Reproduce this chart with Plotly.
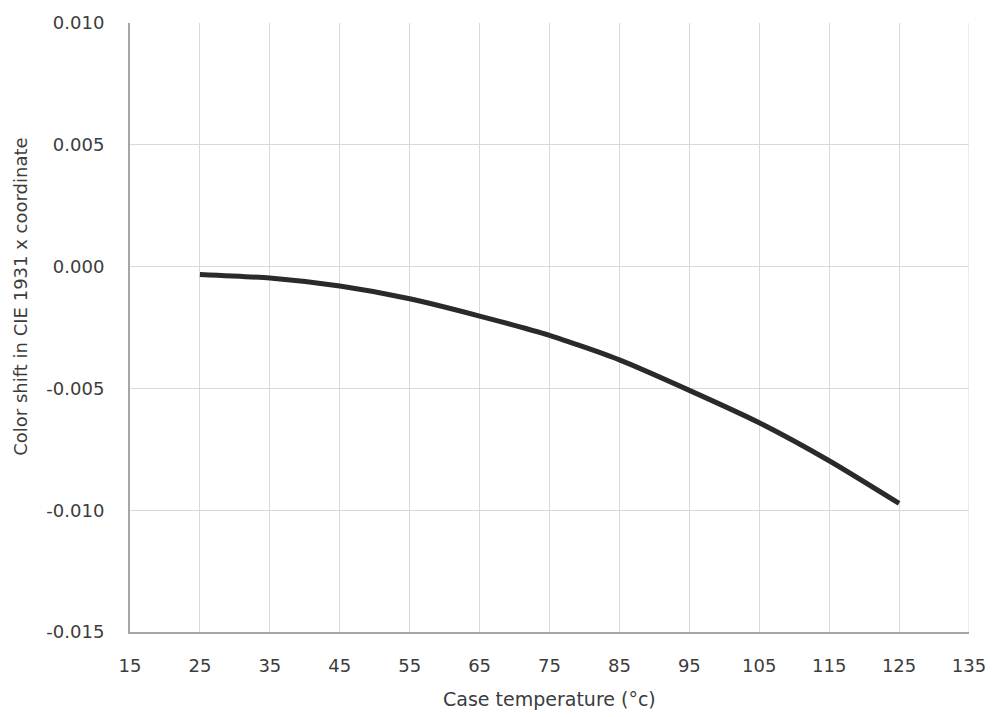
import plotly.graph_objects as go

# Case temperature (°C) and resulting CIE 1931 x chromaticity shift
case_temp = [25, 35, 45, 55, 65, 75, 85, 95, 105, 115, 125]
color_shift_x = [-0.00032, -0.00047, -0.00080, -0.00132, -0.00203, -0.00282,
                 -0.00383, -0.00508, -0.00641, -0.00797, -0.00972]

x_ticks = [15, 25, 35, 45, 55, 65, 75, 85, 95, 105, 115, 125, 135]
y_ticks = [0.010, 0.005, 0.000, -0.005, -0.010, -0.015]

FONT = "DejaVu Sans"
TEXT = "#3c3c3c"
GRID = "#d9d9d9"
AXIS = "#a6a6a6"

fig = go.Figure()
fig.add_trace(go.Scatter(
    x=case_temp, y=color_shift_x, mode="lines",
    line=dict(color="#2a2a2a", width=5, shape="spline", smoothing=0.6),
    hoverinfo="x+y", showlegend=False,
))

fig.update_layout(
    width=998, height=717,
    margin=dict(l=130, r=24, t=16, b=85),
    paper_bgcolor="white", plot_bgcolor="white",
    font=dict(family=FONT, size=18, color=TEXT),
    xaxis=dict(
        range=[15, 135], tickvals=x_ticks, ticktext=[str(v) for v in x_ticks],
        showgrid=True, gridcolor=GRID, gridwidth=1,
        showline=True, linecolor=AXIS, linewidth=2, mirror=False,
        zeroline=False, ticks="outside", ticklen=16, tickcolor="rgba(0,0,0,0)",
        tickfont=dict(family=FONT, size=18, color=TEXT),
    ),
    yaxis=dict(
        range=[-0.015, 0.010], tickvals=y_ticks,
        ticktext=[f"{v:.3f}" for v in y_ticks],
        showgrid=True, gridcolor=GRID, gridwidth=1,
        showline=True, linecolor=AXIS, linewidth=2,
        zeroline=False, ticks="outside", ticklen=20, tickcolor="rgba(0,0,0,0)",
        tickfont=dict(family=FONT, size=18, color=TEXT),
    ),
    annotations=[
        dict(text="Case temperature (°c)", xref="paper", yref="paper",
             x=0.5, y=-0.11, xanchor="center", yanchor="middle",
             showarrow=False, font=dict(family=FONT, size=19, color=TEXT)),
        dict(text="Color shift in CIE 1931 x coordinate", xref="paper", yref="paper",
             x=-0.1315, y=0.55, xanchor="center", yanchor="middle", textangle=-90,
             showarrow=False, font=dict(family=FONT, size=18, color=TEXT)),
    ],
)

# Right border of the plotting area drawn as a grid line at 135
fig.add_shape(type="line", xref="x", yref="paper", x0=135, x1=135, y0=0, y1=1,
              line=dict(color=GRID, width=1), layer="below")

fig.write_html("out.html")
